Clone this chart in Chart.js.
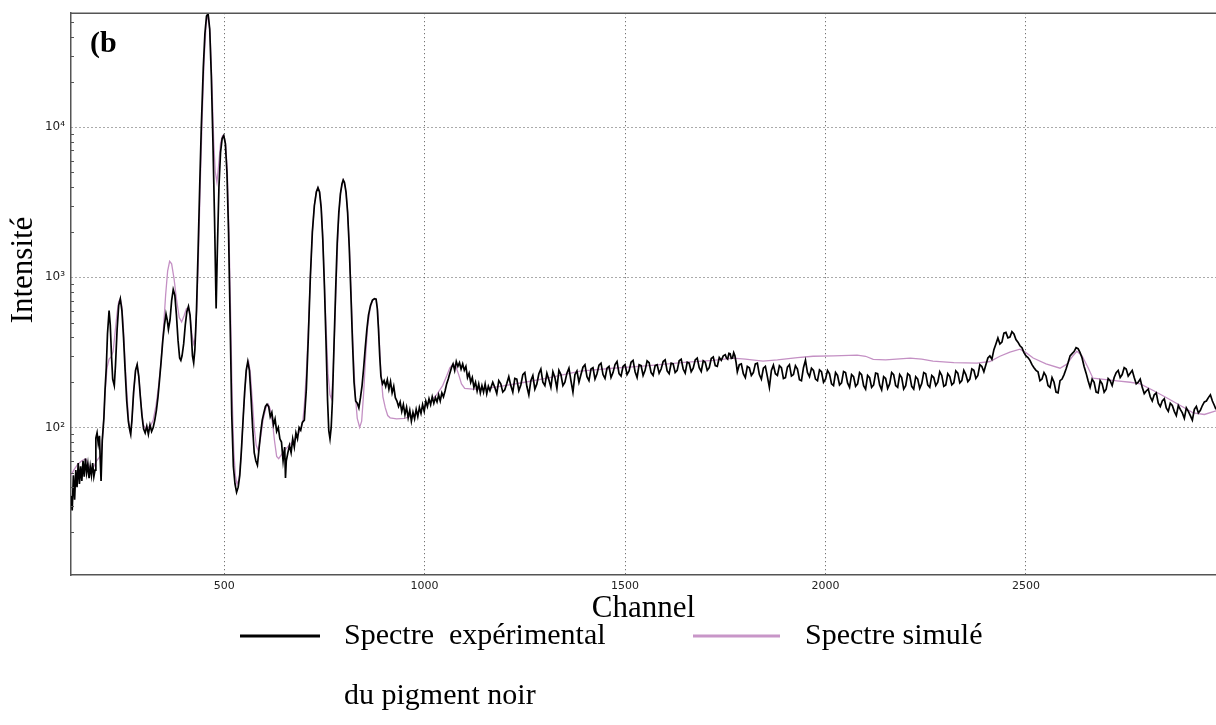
<!DOCTYPE html>
<html>
<head>
<meta charset="utf-8">
<script src="https://cdn.jsdelivr.net/npm/chart.js@4.4.0/dist/chart.umd.min.js"></script>
<style>
  html, body { margin: 0; padding: 0; background: #fff; }
  #wrap { width: 1216px; height: 725px; }
</style>
</head>
<body>
<div id="wrap"><canvas id="spectreChart" width="1216" height="725"></canvas></div>
<script>
// axes
const xMin = 118, xMax = 2974;
const yMin = 10.4, yMax = 57500;
const xTicks = [500, 1000, 1500, 2000, 2500];
const yTicks = [100, 1000, 10000];
const yTickLabels = ["10²", "10³", "10⁴"];

// spectre experimental : [channel, intensite]
const expLow = [[118,35],[121,28],[124,48],[127,33],[130,52],[133,40],[136,58],[139,42],[142,55],[145,44],[148,60],[151,47],[154,62],[157,50],[160,57],[163,46],[166,55],[169,48],[172,58],[175,47],[178,52],[180,85],[183,92],[186,78],[189,88],[191,60],[193,44],[196,82],[200,115],[203,180],[206,250],[209,420],[213,600],[216,480],[219,300],[222,210],[226,190],[229,260],[233,450],[237,650],[241,720],[245,600],[249,400],[253,240],[257,150],[261,110],[264,98],[267,90],[270,112],[274,170],[279,240],[283,262],[287,220],[291,160],[295,120],[299,98],[303,92],[307,102],[311,90],[315,104],[319,94],[323,100],[327,112],[331,130],[335,160],[339,210],[343,280],[347,380],[351,480],[355,570],[358,520],[361,450],[365,520],[369,700],[373,830],[377,760],[381,560],[385,380],[389,290],[392,280],[395,300],[399,360],[403,480],[407,590],[411,640],[415,560],[418,420],[421,300],[424,270],[427,330],[431,600],[435,1500],[439,4000],[443,10000],[448,25000],[452,42000],[456,55000],[460,57000],[464,45000],[468,22000],[472,8000],[476,2500],[480,620],[483,1500],[487,4000],[491,6800],[495,8400],[499,8800]];
const expMid = [[503,7800],[507,5000],[511,2000],[515,500],[519,120],[523,55],[527,42],[531,37],[535,40],[539,48],[543,70],[547,110],[551,170],[555,240],[559,275],[563,240],[567,160],[571,100],[575,68],[579,60],[583,56],[587,72],[591,92],[595,112],[599,125],[603,138],[607,143],[611,138],[615,118],[619,126],[623,104],[627,114],[631,94],[635,100],[639,84],[643,80],[647,60],[651,74],[653,46],[655,60],[659,68],[663,76],[667,68],[671,84],[675,74],[679,92],[683,84],[687,100],[691,96],[695,108],[700,112],[705,180],[710,400],[715,1000],[720,2000],[725,3000],[730,3700],[734,3950],[738,3700],[742,2900],[746,1800],[750,900],[754,380],[758,150],[761,95],[764,84],[767,100],[770,150],[774,350],[778,800],[782,1700],[786,2700],[790,3600],[794,4200],[797,4450],[800,4300],[804,3700],[808,2700],[812,1600],[816,800],[820,380],[824,200],[828,150],[832,145],[836,135],[840,158],[844,190],[848,250],[852,340],[856,450],[860,560],[865,650],[870,705],[875,720],[879,715],[882,620],[885,450],[888,300],[891,220],[895,195],[899,205],[903,188],[907,208],[911,180],[915,202],[919,170],[923,188],[927,158],[931,150],[935,138],[939,148],[943,128],[947,142],[951,122],[955,136],[959,116],[963,130],[967,110],[971,126],[975,114],[979,132],[983,118],[987,136],[991,124],[995,142],[999,128]];
const expPlateau = [[1003,150],[1007,138],[1011,155],[1015,142],[1019,160],[1023,145],[1027,158],[1031,148],[1035,165],[1039,150],[1043,170],[1047,160],[1051,175],[1055,195],[1059,210],[1063,230],[1067,250],[1071,265],[1075,240],[1079,275],[1083,255],[1087,270],[1091,245],[1095,265],[1099,240],[1103,255],[1107,215],[1111,230],[1115,200],[1119,215],[1123,185],[1127,200],[1131,175],[1135,195],[1139,170],[1143,190],[1147,172],[1151,195],[1155,168],[1159,188],[1163,176],
  [1170,200],[1175,185],[1180,168],[1185,205],[1190,195],[1195,172],[1200,178],[1205,196],[1210,218],[1215,190],[1220,172],[1225,212],[1230,210],[1235,176],[1240,192],[1245,225],[1250,232],[1255,188],[1260,165],[1265,205],[1270,222],[1275,180],[1280,195],[1285,228],[1290,245],[1295,200],[1300,190],[1305,230],[1310,208],[1315,185],[1320,235],[1325,215],[1330,182],[1335,240],[1340,225],[1345,190],[1350,200],[1355,230],[1360,248],[1365,205],[1370,172],[1375,225],[1380,238],[1385,200],[1390,225],[1395,252],[1400,262],[1405,218],[1410,205],[1415,245],[1420,250],[1425,210],[1430,228],[1435,260],[1440,268],[1445,225],[1450,212],[1455,248],[1460,255],[1465,215],[1470,232],[1475,262],[1480,275],[1485,228],[1490,220],[1495,255],[1500,262],[1505,225],[1510,238],[1515,272],[1520,280],[1525,235],[1530,215],[1535,262],[1540,258],[1545,222],[1550,240],[1555,278],[1560,270],[1565,232],[1570,222],[1575,258],[1580,262],[1585,230],[1590,245],[1595,275],[1600,282],[1605,238],[1610,228],[1615,268],[1620,265],[1625,232],[1630,240],[1635,278],[1640,285],[1645,245],[1650,230],[1655,272],[1660,268],[1665,235],[1670,248],[1675,282],[1680,290],[1685,250],[1690,236],[1695,278],[1700,272],[1705,240],[1710,250],[1715,288],[1720,295],[1725,258],[1730,255],[1735,292],[1740,280],[1745,300]];
const expTail = [[1750,305],[1753,290],[1756,285],[1759,312],[1762,310],[1765,288],[1768,290],[1771,315],[1774,300],[1777,270],[1780,235],[1785,262],[1790,265],[1795,228],[1800,215],[1805,255],[1810,250],[1815,222],[1820,232],[1825,265],[1830,268],[1835,225],[1840,210],[1845,248],[1850,255],[1855,218],[1860,185],[1865,240],[1870,260],[1875,228],[1880,222],[1885,258],[1890,250],[1895,212],[1900,215],[1905,252],[1910,262],[1915,220],[1920,225],[1925,258],[1930,245],[1935,208],[1940,205],[1945,250],[1950,280],[1955,232],[1960,218],[1965,248],[1970,240],[1975,210],[1980,205],[1985,242],[1990,235],[1995,200],[2000,210],
  [2005,240],[2010,228],[2015,195],[2020,190],[2025,232],[2030,222],[2035,192],[2040,198],[2045,236],[2050,232],[2055,198],[2060,185],[2065,225],[2070,218],[2075,188],[2080,195],[2085,232],[2090,225],[2095,190],[2100,180],[2105,222],[2110,215],[2115,185],[2120,192],[2125,230],[2130,228],[2135,192],[2140,178],[2145,218],[2150,212],[2155,182],[2160,195],[2165,232],[2170,225],[2175,190],[2180,185],[2185,225],[2190,215],[2195,180],[2200,190],[2205,228],[2210,222],[2215,188],[2220,180],[2225,218],[2230,210],[2235,182],[2240,196],[2245,232],[2250,228],[2255,192],[2260,185],[2265,222],[2270,215],[2275,190],[2280,200],[2285,235],[2290,222],[2295,188],[2300,192],[2305,228],[2310,218],[2315,192],[2320,198],[2325,238],[2330,230],[2335,198],[2340,205],[2345,240],[2350,225],[2355,202],[2360,210],[2365,245],[2370,240],[2375,212],[2380,222],[2385,262],[2390,255],[2395,235],[2400,262],[2405,290],[2410,300],[2415,285],[2420,330],[2425,360],[2430,395],[2435,360],[2440,370],[2445,425],[2450,430],[2455,395],[2460,400],[2465,435],[2470,420],[2475,385],[2480,370],[2485,350],[2490,340],[2495,315],[2500,300],
  [2505,292],[2510,280],[2515,262],[2520,250],[2525,240],[2530,235],[2535,205],[2540,210],[2545,232],[2550,220],[2555,190],[2560,185],[2565,215],[2570,200],[2575,172],[2580,170],[2585,205],[2590,210],[2595,225],[2600,245],[2605,270],[2610,300],[2615,310],[2620,320],[2625,340],[2630,335],[2635,315],[2640,290],[2645,255],[2650,230],[2655,205],[2660,185],[2665,210],[2670,200],[2675,172],[2680,170],[2685,205],[2690,195],[2695,172],[2700,180],[2705,212],[2710,205],[2715,190],[2720,215],[2725,232],[2730,240],[2735,215],[2740,225],[2745,250],[2750,245],[2755,220],[2760,230],[2765,240],[2770,215],[2775,195],[2780,200],[2785,210],[2790,185],[2795,168],[2800,175],[2805,180],[2810,160],[2815,150],[2820,165],[2825,170],[2830,145],[2835,138],[2840,150],[2845,155],[2850,135],[2855,128],[2860,145],[2865,140],[2870,128],[2875,120],[2880,140],[2885,132],[2890,125],[2895,115],[2900,135],[2905,128],[2910,120],[2915,112],[2920,132],[2925,138],[2930,125],[2935,130],[2940,140],[2945,148],[2950,150],[2955,158],[2960,165],[2965,150],[2970,140],[2974,132]];

// spectre simule : [channel, intensite]
const simLow = [[118,48],[125,52],[135,57],[145,60],[155,62],[162,56],[168,52],[175,55],[182,60],[188,63],[193,66],[198,95],[203,170],[208,250],[213,285],[218,295],[223,320],[228,430],[233,580],[237,690],[241,720],[245,640],[249,450],[253,270],[258,160],[262,110],[266,92],[270,110],[275,180],[279,240],[283,262],[288,205],[293,140],[298,105],[304,98],[310,100],[316,102],[323,112],[330,140],[336,185],[342,260],[348,430],[354,760],[359,1100],[364,1280],[369,1230],[375,980],[381,720],[388,540],[394,505],[400,555],[406,620],[411,625],[416,520],[420,410],[424,360],[428,390],[432,650],[436,1400],[440,3800],[445,11000],[450,28000],[455,48000],[460,57000],[465,42000],[470,18000],[474,8000],[478,5000],[482,4300],[486,5500],[491,7800],[496,8800],[500,8700],[504,7600],[508,5000],[512,2000],[516,600],[520,160],[524,70],[528,48],[532,42],[537,45],[542,62],[547,110],[552,180],[557,255],[561,275],[565,235],[570,155],[575,100],[580,76],[585,70],[590,82],[597,112],[604,135],[610,143],[616,130],[621,105],[626,80],[631,64],[636,62],[643,66],[650,70],[658,74],[666,78],[674,82],[682,88],[690,96],[696,108]];
const simMid = [[700,140],[705,230],[710,450],[715,1000],[720,2000],[725,3000],[730,3750],[734,3950],[738,3700],[742,3000],[746,1900],[750,900],[755,420],[759,230],[764,165],[768,155],[772,240],[776,480],[781,1200],[786,2600],[791,3800],[797,4450],[802,4100],[807,3000],[812,1700],[817,750],[822,320],[827,165],[832,115],[838,100],[843,110],[848,170],[853,300],[858,470],[864,620],[870,700],[875,720],[879,715],[883,600],[887,380],[891,230],[896,160],[902,135],[908,120],[914,116],[930,114],[950,115],[970,120],[985,128],[1000,138],[1015,150],[1030,165],[1045,190],[1055,220],[1063,250],[1071,265],[1078,255],[1085,225],[1092,195],[1100,182],[1120,180],[1140,180]];
const simHigh = [[1160,183],[1200,190],[1250,200],[1306,213],[1388,237],[1470,248],[1560,258],[1655,272],[1720,280],[1769,290],[1800,285],[1844,277],[1880,282],[1930,292],[1969,298],[2020,300],[2079,303],[2100,298],[2119,284],[2150,282],[2211,290],[2240,285],[2268,277],[2320,270],[2378,268],[2410,275],[2435,298],[2460,318],[2485,332],[2500,315],[2518,290],[2550,265],[2585,248],[2602,264],[2615,295],[2627,322],[2640,300],[2655,250],[2667,213],[2700,208],[2727,204],[2760,200],[2785,195],[2820,175],[2852,157],[2885,140],[2917,125],[2945,122],[2974,129]];

const serif = "'Liberation Serif', 'Times New Roman', serif";

function toPoints(parts) {
    return parts.flat().map((p) => ({ x: p[0], y: p[1] }));
}

// cadre, petites graduations, titre Y, "(b" et legende
const decorPlugin = {
    id: "decor",
    afterDraw(chart) {
        const c = chart.ctx;
        const area = chart.chartArea;
        const ys = chart.scales.y;
        c.save();
        // bord du haut
        c.strokeStyle = "#555";
        c.lineWidth = 1.5;
        c.beginPath();
        c.moveTo(area.left, area.top);
        c.lineTo(area.right, area.top);
        c.stroke();
        // petites graduations (log) vers l'interieur
        c.lineWidth = 1;
        c.strokeStyle = "#555";
        c.beginPath();
        for (let d = 10; d <= 10000; d *= 10) {
            for (let m = 2; m <= 9; m++) {
                const v = m * d;
                if (v < ys.min || v > ys.max) continue;
                const py = Math.round(ys.getPixelForValue(v)) + 0.5;
                c.moveTo(area.left, py);
                c.lineTo(area.left + 3, py);
            }
        }
        c.stroke();

        // titre Y
        c.fillStyle = "#000";
        c.font = "31px " + serif;
        c.textAlign = "center";
        c.textBaseline = "middle";
        c.save();
        c.translate(24, 270);
        c.rotate(-Math.PI / 2);
        c.fillText("Intensité", 0, 0);
        c.restore();

        // etiquette du panneau
        c.font = "bold 30px " + serif;
        c.textAlign = "left";
        c.textBaseline = "alphabetic";
        c.fillText("(b", 90, 52);

        // legende
        c.lineWidth = 3;
        c.strokeStyle = "#000";
        c.beginPath();
        c.moveTo(240, 636);
        c.lineTo(320, 636);
        c.stroke();
        c.strokeStyle = "#c896c8";
        c.beginPath();
        c.moveTo(693, 636);
        c.lineTo(780, 636);
        c.stroke();
        c.font = "30px " + serif;
        c.textBaseline = "middle";
        c.fillText("Spectre  expérimental", 344, 636);
        c.fillText("du pigment noir", 344, 696);
        c.fillText("Spectre simulé", 805, 636);
        c.restore();
    },
};

const ctx = document.getElementById("spectreChart").getContext("2d");

const spectreChart = new Chart(ctx, {
    type: "line",
    data: {
        datasets: [
            {
                label: "Spectre expérimental du pigment noir",
                data: toPoints([expLow, expMid, expPlateau, expTail]),
                borderColor: "#000000",
                borderWidth: 1.7,
                pointRadius: 0,
                tension: 0,
                fill: false,
            },
            {
                label: "Spectre simulé",
                data: toPoints([simLow, simMid, simHigh]),
                borderColor: "#c490c4",
                borderWidth: 1.3,
                pointRadius: 0,
                tension: 0,
                fill: false,
            },
        ],
    },
    options: {
        responsive: false,
        animation: false,
        layout: { padding: { top: 10, left: 0, right: 0, bottom: 0 } },
        plugins: {
            legend: { display: false },
            tooltip: { enabled: false },
        },
        scales: {
            x: {
                type: "linear",
                min: xMin,
                max: xMax,
                afterFit: (scale) => { scale.height = 150; },
                afterBuildTicks: (scale) => {
                    scale.ticks = xTicks.map((v) => ({ value: v }));
                },
                grid: { color: "#555", lineWidth: 1, drawTicks: false },
                border: { color: "#555", width: 1.5, dash: [1, 3] },
                ticks: {
                    padding: 5,
                    color: "#222",
                    font: { family: "'DejaVu Sans'", size: 11 },
                    callback: (value) => String(value),
                },
                title: {
                    display: true,
                    text: "Channel",
                    color: "#000",
                    font: { family: serif, size: 31 },
                    padding: { top: 0, bottom: 98 },
                },
            },
            y: {
                type: "logarithmic",
                min: yMin,
                max: yMax,
                afterFit: (scale) => { scale.width = 71; },
                afterBuildTicks: (scale) => {
                    scale.ticks = yTicks.map((v) => ({ value: v }));
                },
                grid: { color: "#555", lineWidth: 1, drawTicks: false },
                border: { color: "#555", width: 1.5, dash: [1, 3] },
                ticks: {
                    padding: 6,
                    color: "#222",
                    font: { family: "'DejaVu Sans'", size: 12 },
                    callback: function (value) {
                        const i = yTicks.indexOf(value);
                        return i >= 0 ? yTickLabels[i] : "";
                    },
                },
            },
        },
    },
    plugins: [decorPlugin],
});
</script>
</body>
</html>
